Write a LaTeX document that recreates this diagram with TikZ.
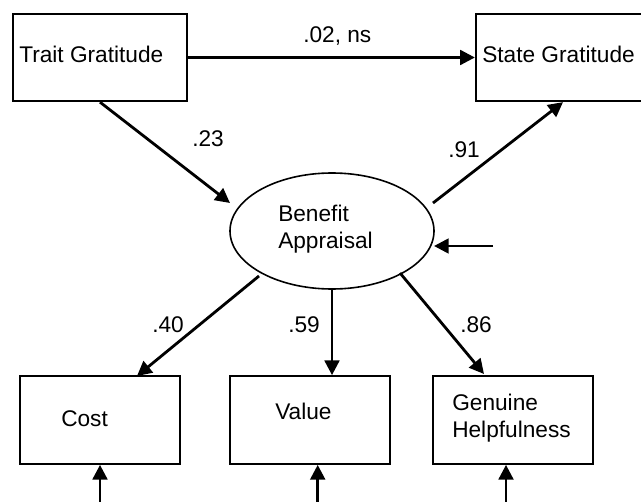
\documentclass[tikz,border=0pt]{standalone}
\usepackage{fontspec}
\setmainfont{Liberation Sans}
\usetikzlibrary{arrows.meta,shapes.geometric}
\begin{document}
\begin{tikzpicture}[x=0.75pt,y=-0.75pt,
  font=\fontsize{17}{20}\selectfont,
  obsbox/.style={draw,line width=1.7pt,rectangle,inner sep=0pt,minimum width=#1},
  obsbox/.default=120pt,
  lat/.style={draw,line width=1.2pt,ellipse,inner sep=0pt,minimum width=153pt,minimum height=87pt},
  txt/.style={anchor=base west,inner sep=0pt,align=left},
  path/.style={line width=2.1pt,-{Triangle[length=11pt,width=11pt]}},
  coef/.style={anchor=base west,inner sep=0pt}]
\useasboundingbox (0,0) rectangle (641,502);
\clip (0,0) rectangle (641,502);
% boxes
\node[obsbox=130.5pt,minimum height=65.25pt] (trait) at (100,57.5) {};
\node[obsbox=130.5pt,minimum height=65.25pt] (state) at (563,57.5) {};
\node[lat] (ell) at (332,231) {};
\node[obsbox,minimum height=65.6pt] (cost) at (100,420) {};
\node[obsbox,minimum height=65.6pt] (value) at (310,420) {};
\node[obsbox,minimum height=65.6pt] (genu) at (513,420) {};
% texts
\node[txt] (tTrait) at (19,63) {Trait Gratitude};
\node[txt] (tState) at (482,63) {State Gratitude};
\node[txt] (tBen) at (278,221) {Benefit};
\node[txt] (tApp) at (278,248) {Appraisal};
\node[txt] (tCost) at (61,426) {Cost};
\node[txt] (tValue) at (275,419) {Value};
\node[txt] (tGen) at (452,410) {Genuine};
\node[txt] (tHelp) at (452,437) {Helpfulness};
% coefficients
\node[coef] (c02) at (303,43) {.02, ns};
\node[coef] (c23) at (192,147) {.23};
\node[coef] (c91) at (448,158) {.91};
\node[coef] (c40) at (152,332) {.40};
\node[coef] (c59) at (288,332) {.59};
\node[coef] (c86) at (460,332) {.86};
% coordinates
\coordinate (eTE) at (230,203);
\coordinate (sES) at (433,203);
\coordinate (dS) at (493,246);
\coordinate (dE) at (434,246);
\coordinate (sEC) at (259,276);
\coordinate (eEC) at (137,376);
\coordinate (sEG) at (400,273);
\coordinate (eEG) at (484,374);
\coordinate (bC) at (100,503);
\coordinate (bV) at (317.7,503);
\coordinate (bG) at (506,503);
% connectors
\draw[path] (trait.east) -- (state.west);
\draw[path] (trait.south) -- (eTE);
\draw[path] (sES) -- (state.south);
\draw[path] (dS) -- (dE);
\draw[path] (sEC) -- (eEC);
\draw[path] (ell.south) -- (ell.south |- value.north);
\draw[path] (sEG) -- (eEG);
\draw[path] (bC) -- (bC |- cost.south);
\draw[path] (bV) -- (bV |- value.south);
\draw[path] (bG) -- (bG |- genu.south);
\end{tikzpicture}
\end{document}
